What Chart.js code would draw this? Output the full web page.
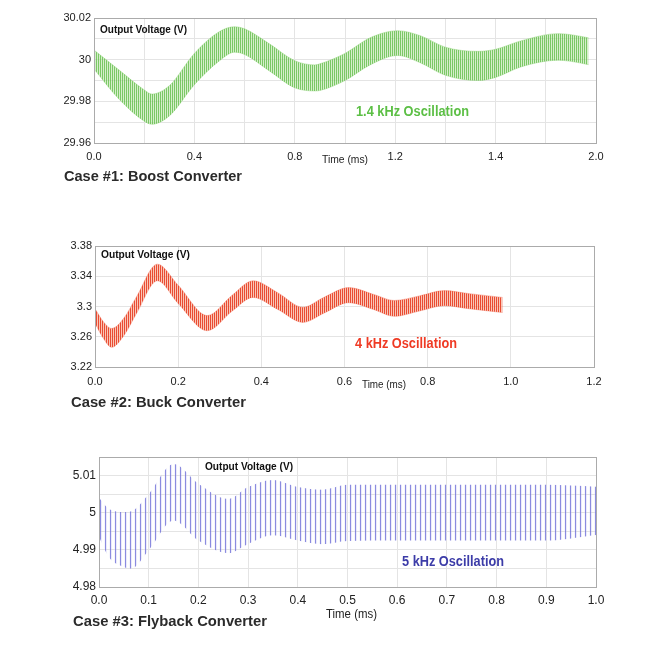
<!DOCTYPE html>
<html>
<head>
<meta charset="utf-8">
<script src="https://cdn.jsdelivr.net/npm/chart.js@4.4.1/dist/chart.umd.min.js"></script>
<style>
    html, body { margin: 0; padding: 0; background: #fff; }
    #page { position: relative; width: 650px; height: 650px; overflow: hidden; }
    canvas { position: absolute; left: 0; }
</style>
</head>
<body>
<div id="page">
    <canvas id="boost-chart" width="650" height="200" style="top:0"></canvas>
    <canvas id="buck-chart" width="650" height="220" style="top:200px"></canvas>
    <canvas id="flyback-chart" width="650" height="230" style="top:420px"></canvas>
</div>
<script>
// Case #1: Boost converter (ripple band envelope)
const boostTime  = [0, 0.1, 0.2, 0.23, 0.3, 0.4, 0.5, 0.56, 0.6, 0.7, 0.8, 0.88, 0.9, 1.0, 1.1, 1.21, 1.3, 1.4, 1.53, 1.6, 1.7, 1.85, 1.9, 1.97];
const boostUpper = [30.0046, 29.9950, 29.9855, 29.9835, 29.9875, 30.0030, 30.0135, 30.0158, 30.0148, 30.0075, 29.9995, 29.9975, 29.9980, 30.0030, 30.0105, 30.0139, 30.0115, 30.0060, 30.0040, 30.0050, 30.0090, 30.0125, 30.0120, 30.0105];
const boostLower = [29.9955, 29.9810, 29.9705, 29.9690, 29.9730, 29.9880, 29.9995, 30.0036, 30.0025, 29.9945, 29.9865, 29.9850, 29.9852, 29.9900, 29.9975, 30.0020, 29.9985, 29.9925, 29.9900, 29.9915, 29.9965, 29.9997, 29.9992, 29.9976];
const boostYTicks  = [29.96, 29.97, 29.98, 29.99, 30.00, 30.01, 30.02];
const boostYLabels = ['29.96', '', '29.98', '', '30', '', '30.02'];
const boostXTicks  = [0, 0.2, 0.4, 0.6, 0.8, 1.0, 1.2, 1.4, 1.6, 1.8, 2.0];
const boostXLabels = ['0.0', '', '0.4', '', '0.8', '', '1.2', '', '1.4', '', '2.0'];

// Case #2: Buck converter
const buckTime  = [0, 0.02, 0.04, 0.07, 0.1, 0.15, 0.2, 0.27, 0.33, 0.38, 0.44, 0.5, 0.55, 0.61, 0.67, 0.72, 0.78, 0.84, 0.9, 0.98];
const buckUpper = [3.297, 3.280, 3.271, 3.285, 3.313, 3.356, 3.328, 3.288, 3.315, 3.334, 3.318, 3.299, 3.312, 3.325, 3.316, 3.308, 3.314, 3.321, 3.317, 3.312];
const buckLower = [3.278, 3.258, 3.246, 3.262, 3.291, 3.334, 3.304, 3.268, 3.294, 3.312, 3.296, 3.279, 3.291, 3.305, 3.296, 3.287, 3.294, 3.301, 3.297, 3.292];
const buckYTicks  = [3.22, 3.24, 3.26, 3.28, 3.30, 3.32, 3.34, 3.36, 3.38];
const buckYLabels = ['3.22', '', '3.26', '', '3.3', '', '3.34', '', '3.38'];
const buckXTicks  = [0, 0.2, 0.4, 0.6, 0.8, 1.0, 1.2];
const buckXLabels = ['0.0', '0.2', '0.4', '0.6', '0.8', '1.0', '1.2'];

// Case #3: Flyback converter
const flybackTime  = [0, 0.02, 0.05, 0.065, 0.1, 0.15, 0.2, 0.26, 0.3, 0.35, 0.4, 0.45, 0.5, 0.6, 0.7, 0.8, 0.9, 1.0];
const flybackUpper = [5.0040, 5.0010, 5.0002, 5.0004, 5.0050, 5.0131, 5.0078, 5.0037, 5.0069, 5.0088, 5.0069, 5.0062, 5.0075, 5.0075, 5.0075, 5.0075, 5.0075, 5.0070];
const flybackLower = [4.9935, 4.9880, 4.9854, 4.9850, 4.9899, 4.9979, 4.9925, 4.9891, 4.9916, 4.9939, 4.9925, 4.9915, 4.9924, 4.9925, 4.9925, 4.9925, 4.9925, 4.9940];
const flybackYTicks  = [4.98, 4.985, 4.99, 4.995, 5.00, 5.005, 5.01, 5.015];
const flybackYLabels = ['4.98', '', '4.99', '', '5', '', '5.01', ''];
const flybackXTicks  = [0, 0.1, 0.2, 0.3, 0.4, 0.5, 0.6, 0.7, 0.8, 0.9, 1.0];
const flybackXLabels = ['0.0', '0.1', '0.2', '0.3', '0.4', '0.5', '0.6', '0.7', '0.8', '0.9', '1.0'];

const FONT = '"Liberation Sans", Arial, Helvetica, sans-serif';

// Vertical stripe pattern to mimic the dense switching ripple
function stripePattern(cols) {
    const c = document.createElement('canvas');
    c.width = cols.length;
    c.height = 1;
    const g = c.getContext('2d');
    cols.forEach((col, i) => {
        g.fillStyle = col;
        g.fillRect(i, 0, 1, 1);
    });
    return g.createPattern(c, 'repeat');
}

// Draw text squeezed/stretched to a given width (original uses a narrow face)
function fitText(ctx, t) {
    ctx.save();
    ctx.font = t.font;
    ctx.fillStyle = t.color;
    ctx.textBaseline = 'middle';
    ctx.textAlign = 'left';
    const w = ctx.measureText(t.text).width;
    ctx.translate(t.x, t.y);
    ctx.scale(t.width / w, 1);
    ctx.fillText(t.text, 0, 0);
    ctx.restore();
}

function makeChart(id, opts) {
    const ctx = document.getElementById(id);
    const canvasHeight = ctx.height;

    const overlay = {
        id: 'overlay-' + id,
        afterDraw(chart) {
            const c = chart.ctx;
            const a = chart.chartArea;
            c.save();
            c.strokeStyle = '#ababab';
            c.lineWidth = 1;
            c.strokeRect(Math.round(a.left) + 0.5, Math.round(a.top) + 0.5,
                Math.round(a.right - a.left), Math.round(a.bottom - a.top));
            c.restore();
            opts.texts.forEach(t => fitText(c, t));
        }
    };

    return new Chart(ctx, {
        type: 'line',
        data: {
            datasets: [
                {
                    data: opts.time.map((t, i) => ({ x: t, y: opts.upper[i] })),
                    borderColor: opts.edge,
                    borderWidth: opts.edgeWidth,
                    backgroundColor: opts.pattern,
                    fill: '+1',
                    pointRadius: 0,
                    cubicInterpolationMode: 'monotone'
                },
                {
                    data: opts.time.map((t, i) => ({ x: t, y: opts.lower[i] })),
                    borderColor: opts.edge,
                    borderWidth: opts.edgeWidth,
                    fill: false,
                    pointRadius: 0,
                    cubicInterpolationMode: 'monotone'
                }
            ]
        },
        options: {
            responsive: false,
            animation: false,
            events: [],
            layout: {
                padding: { left: 0, top: opts.top, right: 650 - opts.right, bottom: 0 }
            },
            plugins: {
                legend: { display: false },
                tooltip: { enabled: false }
            },
            scales: {
                x: {
                    type: 'linear',
                    min: opts.xTicks[0],
                    max: opts.xTicks[opts.xTicks.length - 1],
                    afterBuildTicks: scale => { scale.ticks = opts.xTicks.map(v => ({ value: v })); },
                    afterFit: scale => { scale.height = canvasHeight - opts.bottom; },
                    grid: { color: '#e4e4e4', drawTicks: false },
                    border: { display: false },
                    ticks: {
                        autoSkip: false,
                        maxRotation: 0,
                        padding: opts.xPad,
                        color: '#222',
                        font: { family: FONT, size: opts.tickSize },
                        callback: (v, i) => opts.xLabels[i]
                    }
                },
                y: {
                    min: opts.yTicks[0],
                    max: opts.yTicks[opts.yTicks.length - 1],
                    afterBuildTicks: scale => { scale.ticks = opts.yTicks.map(v => ({ value: v })); },
                    afterFit: scale => { scale.width = opts.left; },
                    grid: { color: '#e4e4e4', drawTicks: false },
                    border: { display: false },
                    ticks: {
                        padding: 3,
                        color: '#222',
                        font: { family: FONT, size: opts.tickSize },
                        callback: (v, i) => opts.yLabels[i]
                    }
                }
            }
        },
        plugins: [overlay]
    });
}

const bold = size => 'bold ' + size + 'px ' + FONT;
const plain = size => size + 'px ' + FONT;

makeChart('boost-chart', {
    time: boostTime, upper: boostUpper, lower: boostLower,
    xTicks: boostXTicks, xLabels: boostXLabels, yTicks: boostYTicks, yLabels: boostYLabels,
    left: 94, right: 596, top: 18, bottom: 143, xPad: 7, tickSize: 11,
    pattern: stripePattern(['rgba(100,190,75,0.85)', 'rgba(180,226,160,0.55)']),
    edge: 'rgba(130,205,105,0.5)', edgeWidth: 0.8,
    texts: [
        { text: 'Output Voltage (V)', x: 100, y: 30, font: bold(11), color: '#111', width: 87 },
        { text: '1.4 kHz Oscillation', x: 356, y: 112, font: bold(14), color: '#5cbf45', width: 113 },
        { text: 'Time (ms)', x: 322, y: 160, font: plain(11), color: '#222', width: 46 },
        { text: 'Case #1: Boost Converter', x: 64, y: 177, font: bold(15), color: '#2b2b2b', width: 178 }
    ]
});

makeChart('buck-chart', {
    time: buckTime, upper: buckUpper, lower: buckLower,
    xTicks: buckXTicks, xLabels: buckXLabels, yTicks: buckYTicks, yLabels: buckYLabels,
    left: 95, right: 594, top: 46, bottom: 167, xPad: 8, tickSize: 11,
    pattern: stripePattern(['rgba(232,66,40,0.95)', 'rgba(246,160,135,0.6)']),
    edge: 'rgba(240,110,85,0.5)', edgeWidth: 0.8,
    texts: [
        { text: 'Output Voltage (V)', x: 101, y: 55, font: bold(11), color: '#111', width: 89 },
        { text: '4 kHz Oscillation', x: 355, y: 144, font: bold(14), color: '#ef3a24', width: 102 },
        { text: 'Time (ms)', x: 362, y: 185, font: plain(11), color: '#222', width: 44 },
        { text: 'Case #2: Buck Converter', x: 71, y: 203, font: bold(15), color: '#2b2b2b', width: 175 }
    ]
});

makeChart('flyback-chart', {
    time: flybackTime, upper: flybackUpper, lower: flybackLower,
    xTicks: flybackXTicks, xLabels: flybackXLabels, yTicks: flybackYTicks, yLabels: flybackYLabels,
    left: 99, right: 596, top: 37, bottom: 167, xPad: 6, tickSize: 12,
    pattern: stripePattern(['rgba(110,110,215,0.8)', 'rgba(190,190,240,0.3)', 'rgba(255,255,255,0)', 'rgba(255,255,255,0)', 'rgba(215,215,245,0.25)']),
    edge: 'rgba(150,150,225,0)', edgeWidth: 0,
    texts: [
        { text: 'Output Voltage (V)', x: 205, y: 47, font: bold(11), color: '#111', width: 88 },
        { text: '5 kHz Oscillation', x: 402, y: 142, font: bold(14), color: '#3c3ca8', width: 102 },
        { text: 'Time (ms)', x: 326, y: 195, font: plain(12), color: '#222', width: 51 },
        { text: 'Case #3: Flyback Converter', x: 73, y: 202, font: bold(15), color: '#2b2b2b', width: 194 }
    ]
});
</script>
</body>
</html>
